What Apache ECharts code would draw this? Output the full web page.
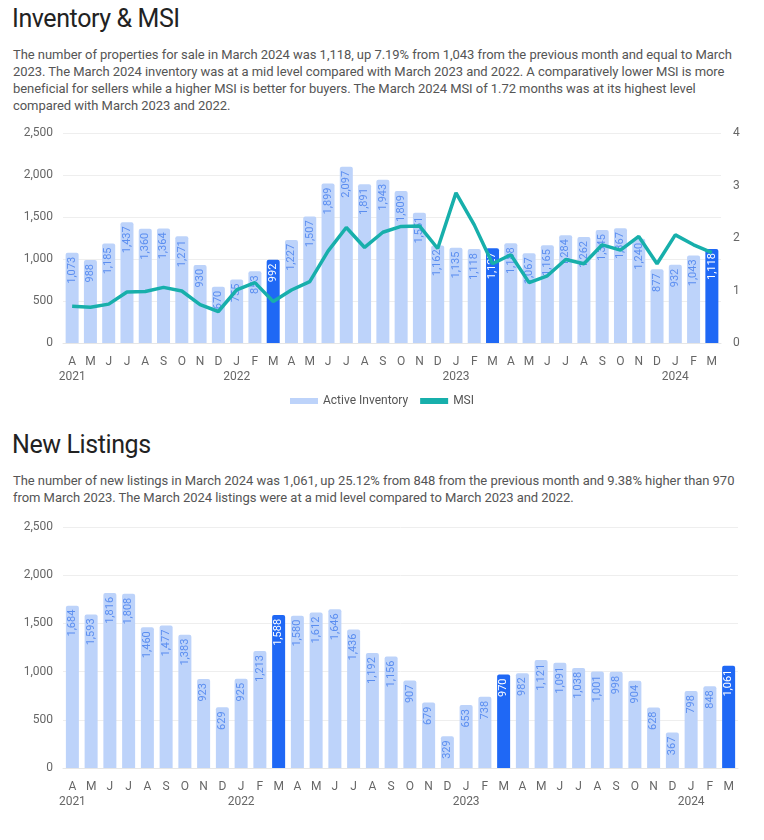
<!DOCTYPE html>
<html><head><meta charset="utf-8">
<script src="https://cdn.jsdelivr.net/npm/echarts@6/dist/echarts.min.js"></script>
<style>
body{margin:0;background:#fff;font-family:Roboto,"Noto Sans",sans-serif;width:764px;height:840px;position:relative;overflow:hidden}
.h{position:absolute;left:12px;font-size:25px;color:#222;font-weight:400;letter-spacing:-0.4px}
.p{position:absolute;left:13px;font-size:13px;line-height:17px;color:#555;white-space:nowrap;letter-spacing:-0.05px}
.c{position:absolute;left:0;width:764px}
</style></head><body>
<div class="h" style="top:4px">Inventory &amp; MSI</div>
<div class="p" style="top:46px">The number of properties for sale in March 2024 was 1,118, up 7.19% from 1,043 from the previous month and equal to March<br>2023. The March 2024 inventory was at a mid level compared with March 2023 and 2022. A comparatively lower MSI is more<br>beneficial for sellers while a higher MSI is better for buyers. The March 2024 MSI of 1.72 months was at its highest level<br>compared with March 2023 and 2022.</div>
<div id="c1" class="c" style="top:120px;height:290px"></div>
<div class="h" style="top:430px">New Listings</div>
<div class="p" style="top:472px">The number of new listings in March 2024 was 1,061, up 25.12% from 848 from the previous month and 9.38% higher than 970<br>from March 2023. The March 2024 listings were at a mid level compared to March 2023 and 2022.</div>
<div id="c2" class="c" style="top:510px;height:310px"></div>
<script>
const months = ['A','M','J','J','A','S','O','N','D','J','F','M','A','M','J','J','A','S','O','N','D','J','F','M','A','M','J','J','A','S','O','N','D','J','F','M'];
const years = ['2021','','','','','','','','','2022','','','','','','','','','','','','2023','','','','','','','','','','','','2024','',''];
const highlighted = [11, 23, 35];
const inventory = [1073,988,1185,1437,1360,1364,1271,930,670,755,853,992,1227,1507,1899,2097,1891,1943,1809,1551,1162,1135,1118,1127,1188,1067,1165,1284,1262,1345,1367,1240,877,932,1043,1118];
const msi = [0.70,0.68,0.74,0.97,0.98,1.06,0.99,0.73,0.60,1.01,1.15,0.79,1.01,1.17,1.75,2.20,1.82,2.11,2.22,2.23,1.80,2.86,2.25,1.51,1.68,1.15,1.28,1.59,1.51,1.87,1.77,2.03,1.51,2.06,1.87,1.72];
const newListings = [1684,1593,1816,1808,1460,1477,1383,923,629,925,1213,1588,1580,1612,1646,1436,1192,1156,907,679,329,653,738,970,982,1121,1091,1038,1001,998,904,628,367,798,848,1061];
const leftTicks = [0,500,1000,1500,2000,2500];
const rightTicks = [0,1,2,3,4];

const LIGHT='#bdd3fa', DARK='#1f68f5', TEAL='#17afab', LBL='#5b8ef0';
const cats = months.map((m,i)=>m+'\n'+years[i]);

function barData(vals){
  return vals.map((v,i)=>{
    const hi = highlighted.includes(i);
    return {value:v, itemStyle:{color: hi?DARK:LIGHT}, label:{color: hi?'#fff':LBL}};
  });
}
const barLabel = {show:true, position:'insideTop', rotate:90, align:'right', verticalAlign:'middle', distance:4, fontSize:11, fontFamily:'Roboto',
  formatter:p=>p.value.toLocaleString('en-US')};
const xAxis = {type:'category', data:cats, axisTick:{show:false}, axisLine:{show:true,lineStyle:{color:'#e6e6e6'}},
  axisLabel:{color:'#666', fontSize:12, fontFamily:'Roboto', margin:11, lineHeight:15, interval:0}};
const yLeft = {type:'value', min:leftTicks[0], max:leftTicks[leftTicks.length-1], interval:500,
  axisLabel:{color:'#666', fontSize:12, fontFamily:'Roboto', margin:10, formatter:v=>v.toLocaleString('en-US')},
  splitLine:{lineStyle:{color:'#eeeeee'}}, axisLine:{show:false}, axisTick:{show:false}};

const c1 = echarts.init(document.getElementById('c1'));
c1.setOption({
  animation:false,
  grid:{left:63, right:43, top:13, height:210},
  xAxis: xAxis,
  yAxis:[yLeft, {type:'value', min:rightTicks[0], max:rightTicks[rightTicks.length-1], interval:1, position:'right',
    axisLabel:{color:'#666', fontSize:12, fontFamily:'Roboto', margin:12}, splitLine:{show:false}, axisLine:{show:false}, axisTick:{show:false}}],
  legend:{top:270, left:'center', itemGap:12, itemWidth:28, itemHeight:6, textStyle:{color:'#555', fontSize:12, fontFamily:'Roboto'},
    data:[{name:'Active Inventory', icon:'rect', itemStyle:{color:LIGHT}}, {name:'MSI', icon:'rect', itemStyle:{color:TEAL}}]},
  series:[
    {name:'Active Inventory', type:'bar', data:barData(inventory), barWidth:13, label:barLabel, itemStyle:{color:LIGHT, borderRadius:[2,2,0,0]}},
    {name:'MSI', type:'line', yAxisIndex:1, data:msi, showSymbol:false, symbol:'none', lineStyle:{color:TEAL, width:3.5}, itemStyle:{color:TEAL}}
  ]
});

const c2 = echarts.init(document.getElementById('c2'));
c2.setOption({
  animation:false,
  grid:{left:63, right:26, top:17, height:241},
  xAxis: xAxis,
  yAxis: yLeft,
  series:[
    {name:'New Listings', type:'bar', data:barData(newListings), barWidth:13, label:barLabel, itemStyle:{color:LIGHT, borderRadius:[2,2,0,0]}}
  ]
});
</script>
</body></html>
